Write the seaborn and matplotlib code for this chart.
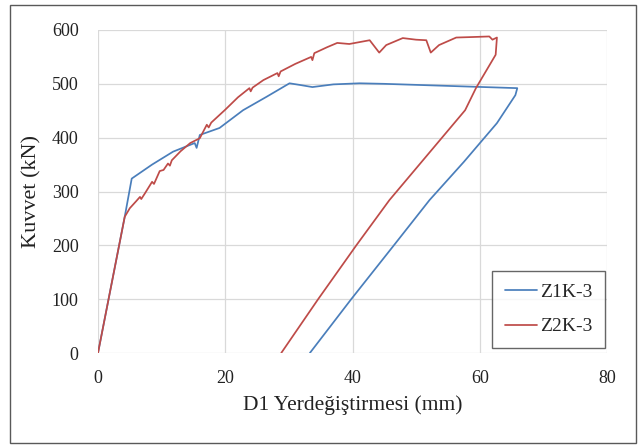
import numpy as np
import pandas as pd
import seaborn as sns
import matplotlib
matplotlib.use("Agg")
import matplotlib.pyplot as plt
from matplotlib.patches import Rectangle

# ---- data ----
z1_x = [0, 4.2, 5.3, 8.5, 11.8, 15.2, 15.5, 16.0, 19.1, 22.8, 26.5, 30.1, 31.7, 33.7,
        37.0, 41.1, 45.0, 50.2, 58.0, 65.9, 65.6, 62.7, 57.5, 52.1, 46.5, 39.8, 33.3]
z1_y = [0, 253, 324, 350, 374, 390, 381, 405, 418, 451, 476, 501, 498, 494,
        499, 501, 500, 498, 495, 492, 479, 427, 355, 284, 200, 100, 0]

z2_x = [0, 4.2, 5.0, 6.0, 6.6, 6.8, 7.4, 8.5, 8.8, 9.7, 10.3, 11.0, 11.3, 11.6, 13.0,
        14.5, 16.0, 17.1, 17.4, 17.8, 20.0, 22.0, 23.8, 24.0, 24.3, 26.0, 28.2, 28.4,
        28.7, 31.0, 33.5, 33.7, 34.0, 36.0, 37.6, 39.5, 42.7, 44.2, 45.3, 47.9, 50.0,
        51.6, 52.3, 53.6, 56.3, 59.0, 61.5, 62.0, 62.7, 62.5, 59.4, 57.7, 45.8, 40.6,
        34.6, 28.8]
z2_y = [0, 253, 269, 282, 290, 286, 297, 318, 314, 338, 340, 352, 348, 358, 375,
        390, 399, 424, 419, 428, 452, 475, 492, 486, 493, 507, 520, 514,
        523, 537, 550, 544, 557, 568, 576, 574, 581, 558, 572, 585, 582,
        581, 558, 572, 586, 587, 588, 582, 586, 554, 492, 451, 284, 200,
        100, 0]

series_names = ["Z1K-3", "Z2K-3"]
x_ticks = [0, 20, 40, 60, 80]
y_ticks = [0, 100, 200, 300, 400, 500, 600]
x_label = "D1 Yerdeğiştirmesi (mm)"
y_label = "Kuvvet (kN)"

df = pd.concat([
    pd.DataFrame({"x": z1_x, "y": z1_y, "series": series_names[0]}),
    pd.DataFrame({"x": z2_x, "y": z2_y, "series": series_names[1]}),
], ignore_index=True)

sns.set_theme(style="white")
plt.rcParams["font.family"] = ["Liberation Serif", "DejaVu Serif"]

fig = plt.figure(figsize=(6.38, 4.46), dpi=100)
ax = fig.add_axes([98/638, 1 - 353/446, (607-98)/638, (353-30)/446])

palette = {"Z1K-3": "#4a7ebb", "Z2K-3": "#be4b48"}
sns.lineplot(data=df, x="x", y="y", hue="series", sort=False, estimator=None,
             palette=palette, linewidth=1.25, ax=ax)

ax.set_xlim(0, 80)
ax.set_ylim(0, 600)
ax.set_xticks(x_ticks)
ax.set_yticks(y_ticks)
ax.grid(True, color="#d9d9d9", linewidth=0.9)
ax.set_axisbelow(True)
for s in ax.spines.values():
    s.set_visible(False)
ax.tick_params(axis="both", length=0, labelsize=13, colors="#222222")
ax.tick_params(axis="y", pad=14)
ax.tick_params(axis="x", pad=12)
ax.set_xlabel(x_label, fontsize=15.5, color="#222222", labelpad=6)
ax.set_ylabel(y_label, fontsize=16, color="#222222", labelpad=7)

leg = ax.legend(loc="lower right", bbox_to_anchor=(0.996, 0.0155), borderaxespad=0,
                fontsize=14, handlelength=1.65, handletextpad=0.15,
                frameon=True, fancybox=False, labelspacing=0.85,
                borderpad=0.65)
leg.get_frame().set_edgecolor("#404040")
leg.get_frame().set_linewidth(1.0)
leg.set_title(None)

fig.patches.append(Rectangle((10/638, 1 - 443/446), (636-10)/638, (443-5)/446,
                             transform=fig.transFigure, fill=False,
                             edgecolor="#595959", linewidth=1.0))

fig.savefig("out.png", dpi=100)
